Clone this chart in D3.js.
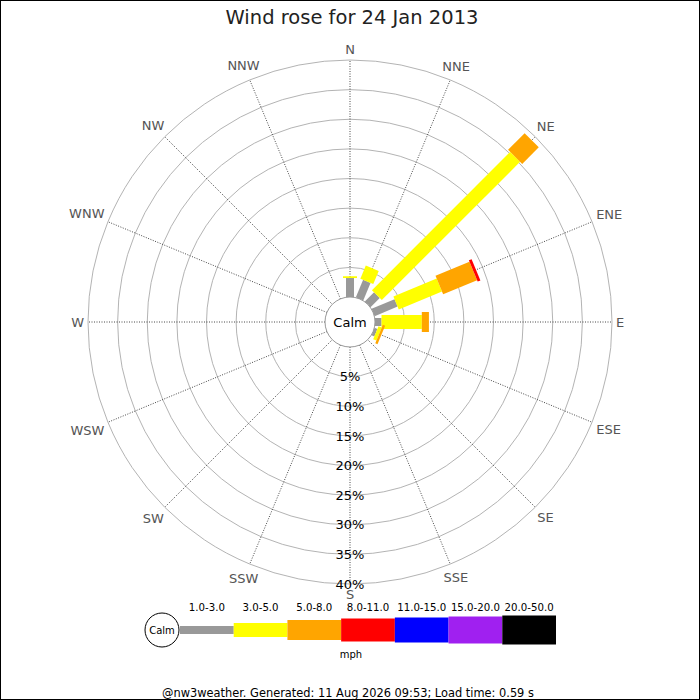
<!DOCTYPE html>
<html>
<head>
<meta charset="utf-8">
<script src="https://cdn.jsdelivr.net/npm/d3@7"></script>
<style>
  html, body { margin: 0; padding: 0; background: #fff; }
  svg { display: block; font-family: "DejaVu Sans", sans-serif; }
</style>
</head>
<body>
<svg id="chart" width="700" height="700"></svg>
<script>
// ---- data ----
const title = "Wind rose for 24 Jan 2013";
const directions = ["N","NNE","NE","ENE","E","ESE","SE","SSE","S","SSW","SW","WSW","W","WNW","NW","NNW"];
const speedClasses = ["1.0-3.0","3.0-5.0","5.0-8.0","8.0-11.0","11.0-15.0","15.0-20.0","20.0-50.0"];
// percentage of time per direction, one array per speed class (order follows directions)
const speed1to3   = [3.2, 3.2, 2.2, 4.2, 1.1, 0.5, 0, 0, 0, 0, 0, 0, 0, 0, 0, 0];
const speed3to5   = [0.3, 2.4, 33.0, 7.9, 6.8, 0.6, 0, 0, 0, 0, 0, 0, 0, 0, 0, 0];
const speed5to8   = [0, 0, 3.95, 6.2, 1.2, 0.4, 0, 0, 0, 0, 0, 0, 0, 0, 0, 0];
const speed8to11  = [0, 0, 0, 0.5, 0, 0, 0, 0, 0, 0, 0, 0, 0, 0, 0, 0];
const speed11to15 = [0, 0, 0, 0, 0, 0, 0, 0, 0, 0, 0, 0, 0, 0, 0, 0];
const speed15to20 = [0, 0, 0, 0, 0, 0, 0, 0, 0, 0, 0, 0, 0, 0, 0, 0];
const speed20to50 = [0, 0, 0, 0, 0, 0, 0, 0, 0, 0, 0, 0, 0, 0, 0, 0];
const radialTicks = [5, 10, 15, 20, 25, 30, 35, 40];
const unitLabel = "mph";
const calmLabel = "Calm";
const footer = "@nw3weather. Generated: 11 Aug 2026 09:53; Load time: 0.59 s";

// ---- styles ----
const classColors = ["#999999", "#ffff00", "#ffa500", "#ff0000", "#0000ff", "#a020f0", "#000000"];
const classWidths = [8, 14, 20, 23, 25, 27, 29];
const seriesList = [speed1to3, speed3to5, speed5to8, speed8to11, speed11to15, speed15to20, speed20to50];

const svg = d3.select("#chart");
const cx = 350, cy = 322;
const calmR = 25, outerR = 262;
const r = d3.scaleLinear().domain([0, 40]).range([calmR, outerR]);
const angle = d3.scalePoint().domain(directions).range([0, 360 - 22.5]);

// border
svg.append("rect").attr("x", 0.5).attr("y", 0.5).attr("width", 699).attr("height", 699)
  .attr("fill", "#fff").attr("stroke", "#000").attr("stroke-width", 1);

// title
svg.append("text").attr("x", 352).attr("y", 24).attr("text-anchor", "middle")
  .attr("font-size", 19.5).attr("fill", "#222").text(title);

const g = svg.append("g").attr("transform", `translate(${cx},${cy})`);

// grid circles
g.selectAll("circle.grid").data(radialTicks).join("circle")
  .attr("class", "grid").attr("r", d => r(d))
  .attr("fill", "none").attr("stroke", "#aaaaaa").attr("stroke-width", 0.9);

// spokes
g.selectAll("line.spoke").data(directions).join("line")
  .attr("class", "spoke")
  .attr("x1", d => calmR * Math.sin(angle(d) * Math.PI / 180))
  .attr("y1", d => -calmR * Math.cos(angle(d) * Math.PI / 180))
  .attr("x2", d => outerR * Math.sin(angle(d) * Math.PI / 180))
  .attr("y2", d => -outerR * Math.cos(angle(d) * Math.PI / 180))
  .attr("stroke", "#333").attr("stroke-width", 0.9).attr("stroke-dasharray", "1,1.5");

// bars
const segs = [];
directions.forEach((dir, i) => {
  let acc = 0;
  seriesList.forEach((s, k) => {
    const v = s[i];
    if (v > 0) segs.push({ dir, k, start: acc, end: acc + v });
    acc += v;
  });
});
g.selectAll("rect.bar").data(segs).join("rect")
  .attr("class", "bar")
  .attr("transform", d => `rotate(${angle(d.dir) - 90})`)
  .attr("x", d => r(d.start))
  .attr("width", d => r(d.end) - r(d.start))
  .attr("y", d => -classWidths[d.k] / 2)
  .attr("height", d => classWidths[d.k])
  .attr("fill", d => classColors[d.k]);

// calm circle
g.append("circle").attr("r", calmR).attr("fill", "#fff").attr("stroke", "#999").attr("stroke-width", 1);
g.append("text").attr("text-anchor", "middle").attr("dy", "0.36em")
  .attr("font-size", 13).attr("fill", "#000").text(calmLabel);

// radial labels
g.selectAll("text.rlab").data(radialTicks).join("text")
  .attr("class", "rlab").attr("x", 0).attr("y", d => r(d)).attr("dy", "0.36em")
  .attr("text-anchor", "middle").attr("font-size", 13).attr("fill", "#000")
  .text(d => d + "%");

// direction labels
const dl = g.selectAll("text.dlab").data(directions).join("text")
  .attr("class", "dlab").attr("text-anchor", "middle").attr("dy", "0.36em")
  .attr("font-size", 13).attr("fill", "#555").text(d => d);
dl.each(function(d) {
  const a = angle(d) * Math.PI / 180;
  const hw = this.getComputedTextLength() / 2, hh = 6.5;
  const rr = 266 + hw * Math.abs(Math.sin(a)) + hh * Math.abs(Math.cos(a));
  d3.select(this).attr("x", rr * Math.sin(a)).attr("y", -rr * Math.cos(a));
});

// legend
const legY = 630;
const lx = d3.scaleBand().domain(speedClasses).range([180, 556]);
const leg = svg.append("g");
leg.selectAll("rect").data(speedClasses).join("rect")
  .attr("x", d => lx(d)).attr("width", lx.bandwidth())
  .attr("y", (d, i) => legY - classWidths[i] / 2).attr("height", (d, i) => classWidths[i])
  .attr("fill", (d, i) => classColors[i]);
leg.selectAll("text").data(speedClasses).join("text")
  .attr("x", d => lx(d) + lx.bandwidth() / 2).attr("y", 611)
  .attr("text-anchor", "middle").attr("font-size", 10.2).attr("fill", "#000").text(d => d);
leg.append("circle").attr("cx", 162).attr("cy", legY).attr("r", 17)
  .attr("fill", "#fff").attr("stroke", "#000").attr("stroke-width", 1);
leg.append("text").attr("x", 162).attr("y", legY).attr("dy", "0.36em").attr("text-anchor", "middle")
  .attr("font-size", 10).attr("fill", "#000").text(calmLabel);
leg.append("text").attr("x", 351).attr("y", 658).attr("text-anchor", "middle")
  .attr("font-size", 10).attr("fill", "#000").text(unitLabel);

// footer
svg.append("text").attr("x", 348).attr("y", 697).attr("text-anchor", "middle")
  .attr("font-size", 11.4).attr("fill", "#000").text(footer);
</script>
</body>
</html>
